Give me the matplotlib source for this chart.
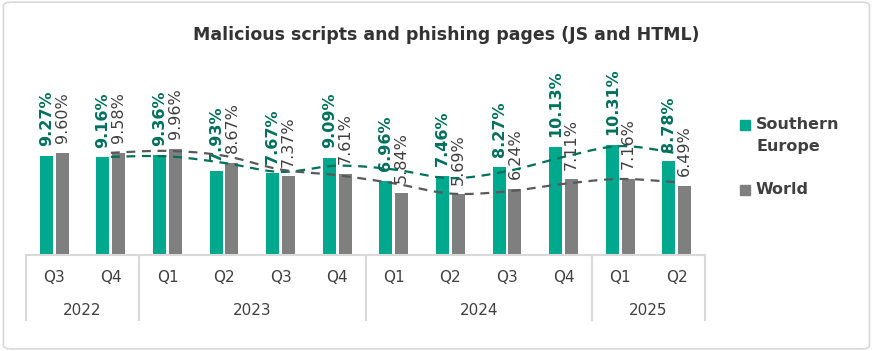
import numpy as np
import matplotlib.pyplot as plt
from matplotlib.patches import FancyBboxPatch, Rectangle

quarters = ["Q3", "Q4", "Q1", "Q2", "Q3", "Q4", "Q1", "Q2", "Q3", "Q4", "Q1", "Q2"]
years = ["2022", "2023", "2024", "2025"]
year_sizes = [2, 4, 4, 2]
southern_europe = [9.27, 9.16, 9.36, 7.93, 7.67, 9.09, 6.96, 7.46, 8.27, 10.13, 10.31, 8.78]
world = [9.60, 9.58, 9.96, 8.67, 7.37, 7.61, 5.84, 5.69, 6.24, 7.11, 7.16, 6.49]

GREEN = "#00A88E"
GREEN_DARK = "#00705C"
GREY = "#7F7F7F"
GREY_DARK = "#595959"
TEXT = "#404040"
LINE = "#D9D9D9"


def moving_avg_smooth(values, steps=20):
    # Excel-style 2-period moving average, drawn with a smoothed line
    v = np.array(values, dtype=float)
    ma = (v[1:] + v[:-1]) / 2
    xs = np.arange(1, len(v), dtype=float)
    p = np.concatenate([[ma[0]], ma, [ma[-1]]])
    px = np.concatenate([[xs[0]], xs, [xs[-1]]])
    out_x, out_y = [], []
    for i in range(1, len(p) - 2):
        t = np.linspace(0, 1, steps, endpoint=False)
        for arr, res in ((px, out_x), (p, out_y)):
            p0, p1, p2, p3 = arr[i - 1], arr[i], arr[i + 1], arr[i + 2]
            m1 = (p2 - p0) / 2
            m2 = (p3 - p1) / 2
            h00 = 2 * t**3 - 3 * t**2 + 1
            h10 = t**3 - 2 * t**2 + t
            h01 = -2 * t**3 + 3 * t**2
            h11 = t**3 - t**2
            res.extend(h00 * p1 + h10 * m1 + h01 * p2 + h11 * m2)
    out_x.append(px[-2])
    out_y.append(p[-2])
    return np.array(out_x), np.array(out_y)


fig = plt.figure(figsize=(8.73, 3.51), dpi=100)
fig.patches.append(FancyBboxPatch((0.004, 0.006), 0.992, 0.988, boxstyle="round,pad=0,rounding_size=0.01",
                                  transform=fig.transFigure, facecolor="none", edgecolor=LINE, lw=1.2,
                                  zorder=-5))

ax = fig.add_axes([26 / 873, 96 / 351, 679 / 873, 195 / 351])
x = np.arange(len(quarters))
w = 0.23
ax.bar(x - 0.14, southern_europe, w, color=GREEN, zorder=2)
ax.bar(x + 0.14, world, w, color=GREY, zorder=2)

for xi, v in zip(x, southern_europe):
    ax.annotate(f"{v:.2f}%", (xi - 0.14, v), xytext=(0, 7), textcoords="offset points",
                rotation=90, ha="center", va="bottom", fontsize=11.5, fontweight="bold", color=GREEN_DARK)
for xi, v in zip(x, world):
    ax.annotate(f"{v:.2f}%", (xi + 0.14, v), xytext=(0, 7), textcoords="offset points",
                rotation=90, ha="center", va="bottom", fontsize=11.5, color=TEXT)

tx, ty = moving_avg_smooth(southern_europe)
ax.plot(tx, ty, color=GREEN_DARK, lw=1.6, ls=(0, (4, 3)), zorder=3)
tx, ty = moving_avg_smooth(world)
ax.plot(tx, ty, color=GREY_DARK, lw=1.6, ls=(0, (4, 3)), zorder=3)

ax.set_xlim(-0.5, len(quarters) - 0.5)
ax.set_ylim(0, 18.3)
ax.axis("off")

# grouped category axis
tr = ax.get_xaxis_transform()
ax.plot([-0.5, len(quarters) - 0.5], [0, 0], transform=tr, color=LINE, lw=1.5, clip_on=False)
for xi, q in zip(x, quarters):
    ax.text(xi, -0.115, q, transform=tr, ha="center", va="center", fontsize=11, color=TEXT)
start = -0.5
ax.plot([start, start], [0, -0.335], transform=tr, color=LINE, lw=1.5, clip_on=False)
for yr, n in zip(years, year_sizes):
    end = start + n
    ax.text((start + end) / 2, -0.285, yr, transform=tr, ha="center", va="center", fontsize=11, color=TEXT)
    ax.plot([end, end], [0, -0.335], transform=tr, color=LINE, lw=1.5, clip_on=False)
    start = end

fig.text(446 / 873, 1 - 35 / 351, "Malicious scripts and phishing pages (JS and HTML)",
         ha="center", va="center", fontsize=12.5, fontweight="bold", color="#333333")

# legend drawn by hand so the square sits on the first line
legend_items = [("Southern\nEurope", GREEN, 125), ("World", GREY, 190)]
for label, col, ypx in legend_items:
    fig.patches.append(Rectangle((740 / 873, 1 - (ypx + 5) / 351), 10 / 873, 10 / 351,
                                 transform=fig.transFigure, color=col))
    fig.text(756 / 873, 1 - (ypx - 8) / 351, label, ha="left", va="top", fontsize=11.5,
             fontweight="bold", color=TEXT, linespacing=1.55)

fig.savefig("out.png", dpi=100)
